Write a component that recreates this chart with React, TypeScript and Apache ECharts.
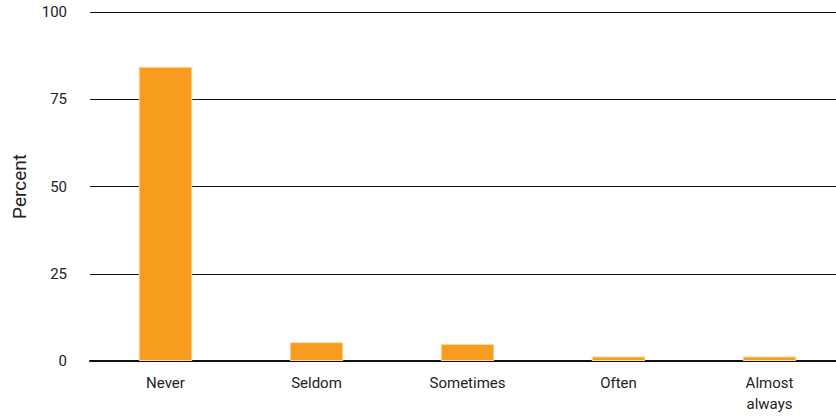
import React, { useEffect, useRef } from "react";
import * as echarts from "echarts";

const categories = ["Never", "Seldom", "Sometimes", "Often", "Almost\nalways"];
const percentValues = [84.3, 5.4, 4.9, 1.3, 1.3];
const yTicks = [0, 25, 50, 75, 100];

export default function App() {
  const ref = useRef<HTMLDivElement>(null);
  useEffect(() => {
    if (!ref.current) return;
    document.body.style.margin = "0";
    const chart = echarts.init(ref.current, undefined, { renderer: "svg" });
    chart.setOption({
      animation: false,
      grid: { left: 90, right: 0, top: 12, bottom: 56 },
      xAxis: {
        type: "category",
        data: categories,
        axisTick: { show: false },
        axisLine: { show: true, lineStyle: { color: "#111", width: 2 } },
        axisLabel: {
          color: "#222",
          fontFamily: "Roboto",
          fontSize: 15,
          margin: 11,
          lineHeight: 21,
        },
      },
      yAxis: {
        type: "value",
        min: yTicks[0],
        max: yTicks[yTicks.length - 1],
        interval: 25,
        name: "Percent",
        nameLocation: "middle",
        nameGap: 61,
        nameTextStyle: { color: "#222", fontFamily: "Roboto", fontSize: 19 },
        axisLine: { show: false },
        axisTick: { show: false },
        axisLabel: { color: "#222", fontFamily: "Roboto", fontSize: 15, margin: 23 },
        splitLine: { lineStyle: { color: "#111", width: 1 } },
      },
      series: [
        {
          type: "bar",
          data: percentValues,
          barWidth: "35.5%",
          itemStyle: { color: "#F79C1E", borderColor: "#FBD9A6", borderWidth: 1 },
        },
      ],
    });
    return () => chart.dispose();
  }, []);
  return (
    <div style={{ width: 836, height: 417, overflow: "hidden" }}>
      <div ref={ref} style={{ width: 845, height: 417 }} />
    </div>
  );
}
